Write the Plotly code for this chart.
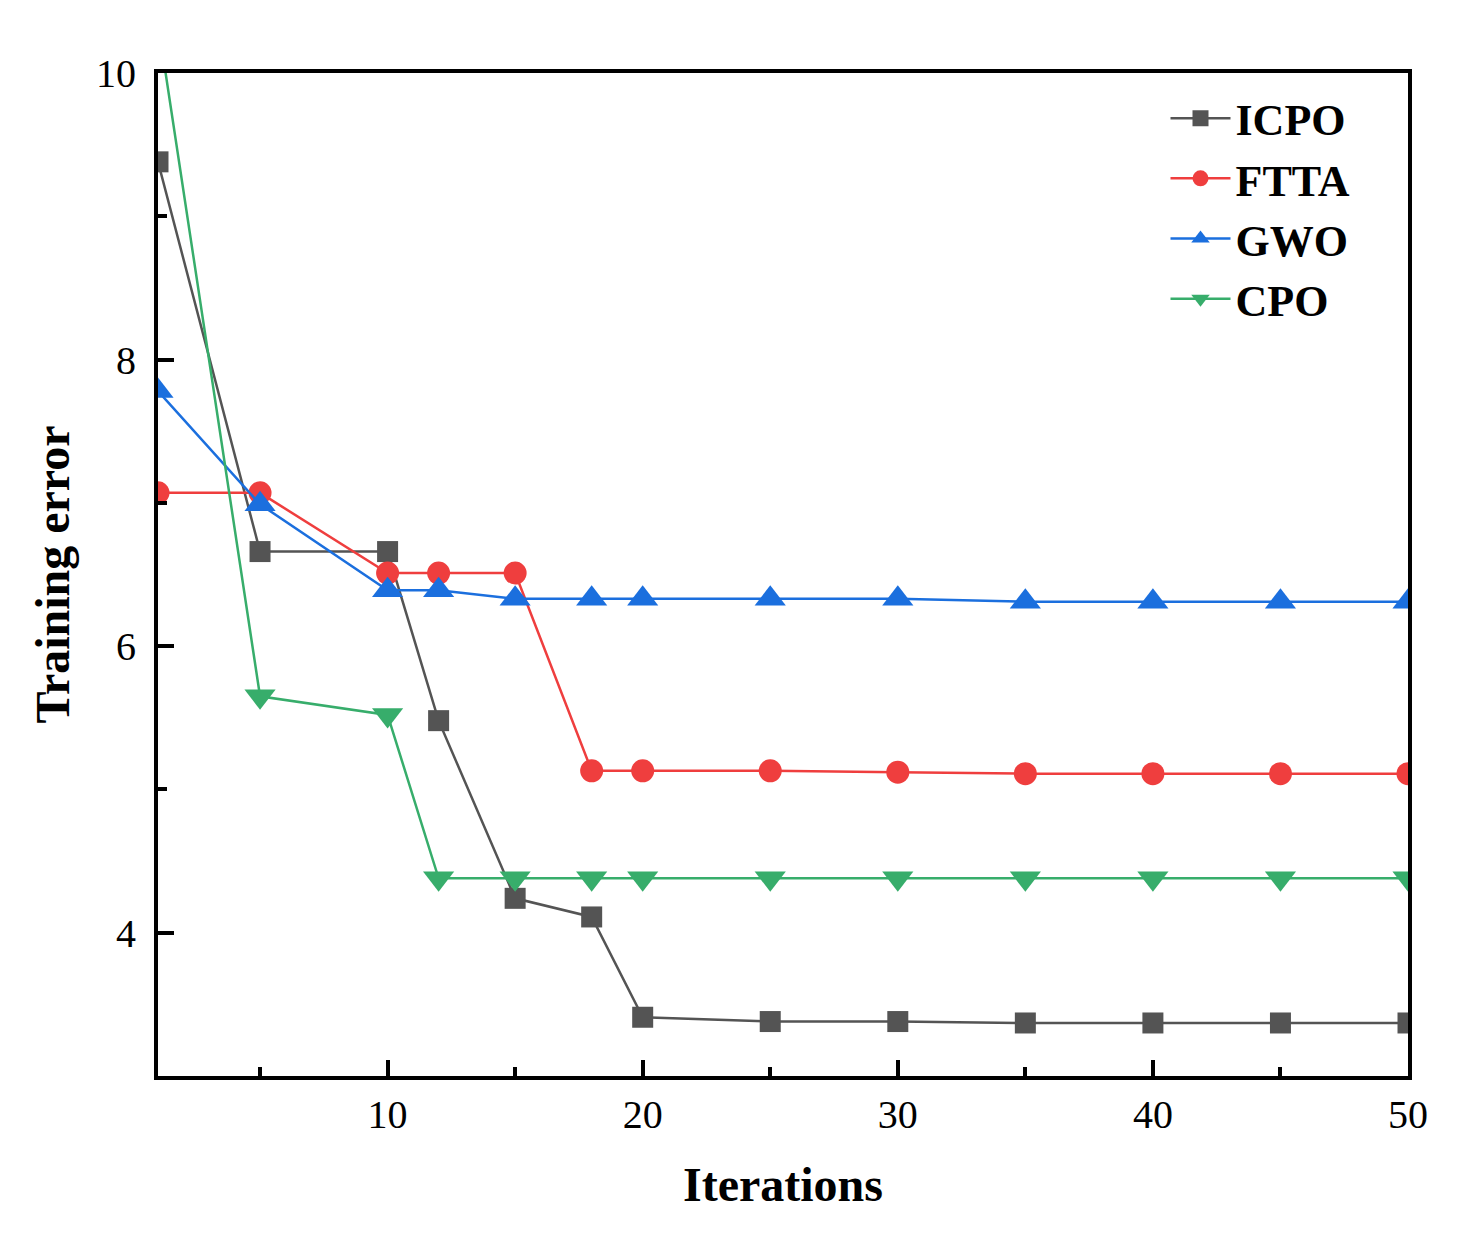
import plotly.graph_objects as go

iterations = [1, 5, 10, 12, 15, 18, 20, 25, 30, 35, 40, 45, 50]
icpo = [9.38, 6.66, 6.66, 5.48, 4.24, 4.11, 3.41, 3.38, 3.38, 3.37, 3.37, 3.37, 3.37]
ftta = [7.07, 7.07, 6.51, 6.51, 6.51, 5.13, 5.13, 5.13, 5.12, 5.11, 5.11, 5.11, 5.11]
gwo = [7.78, 6.99, 6.39, 6.39, 6.33, 6.33, 6.33, 6.33, 6.33, 6.31, 6.31, 6.31, 6.31]
cpo = [10.35, 5.65, 5.52, 4.38, 4.38, 4.38, 4.38, 4.38, 4.38, 4.38, 4.38, 4.38, 4.38]

series = [
    ("ICPO", icpo, "#545454", "square", 21),
    ("FTTA", ftta, "#EF3E3E", "circle", 23),
    ("GWO", gwo, "#1B6FDE", "triangle-up", 27),
    ("CPO", cpo, "#37AD6B", "triangle-down", 27),
]

fig = go.Figure()
for name, vals, col, sym, sz in series:
    fig.add_trace(go.Scatter(
        x=iterations, y=vals, name=name, mode="lines+markers",
        line=dict(color=col, width=2.5),
        marker=dict(symbol=sym, size=sz, color=col),
    ))

axis_common = dict(
    showline=True, linewidth=4, linecolor="black", mirror=True,
    showgrid=False, zeroline=False,
    ticks="inside", ticklen=16, tickwidth=4, tickcolor="black",
    tickfont=dict(family="Liberation Serif", size=40, color="black"),
)

fig.update_xaxes(
    range=[1, 50], tickvals=[10, 20, 30, 40, 50],
    minor=dict(tickvals=[5, 15, 25, 35, 45], ticks="inside", ticklen=9, tickwidth=4, tickcolor="black"),
    title=dict(text="<b>Iterations</b>", font=dict(family="Liberation Serif", size=48, color="black"), standoff=32),
    **axis_common,
)
fig.update_yaxes(
    range=[3, 10], tickvals=[4, 6, 8, 10],
    minor=dict(tickvals=[5, 7, 9], ticks="inside", ticklen=9, tickwidth=4, tickcolor="black"),
    ticklabelstandoff=10,
    title=dict(text="<b>Training error</b>", font=dict(family="Liberation Serif", size=48, color="black"), standoff=12),
    **axis_common,
)

fig.update_layout(
    width=1462, height=1241,
    margin=dict(l=150, r=62, t=65, b=173),
    plot_bgcolor="white", paper_bgcolor="white",
    legend=dict(
        x=0.806, y=0.99, xanchor="left", yanchor="top",
        font=dict(family="Liberation Serif", size=44, color="black", weight="bold"),
        bgcolor="rgba(0,0,0,0)", itemwidth=60, tracegroupgap=0,
    ),
)

fig.write_html("out.html")
